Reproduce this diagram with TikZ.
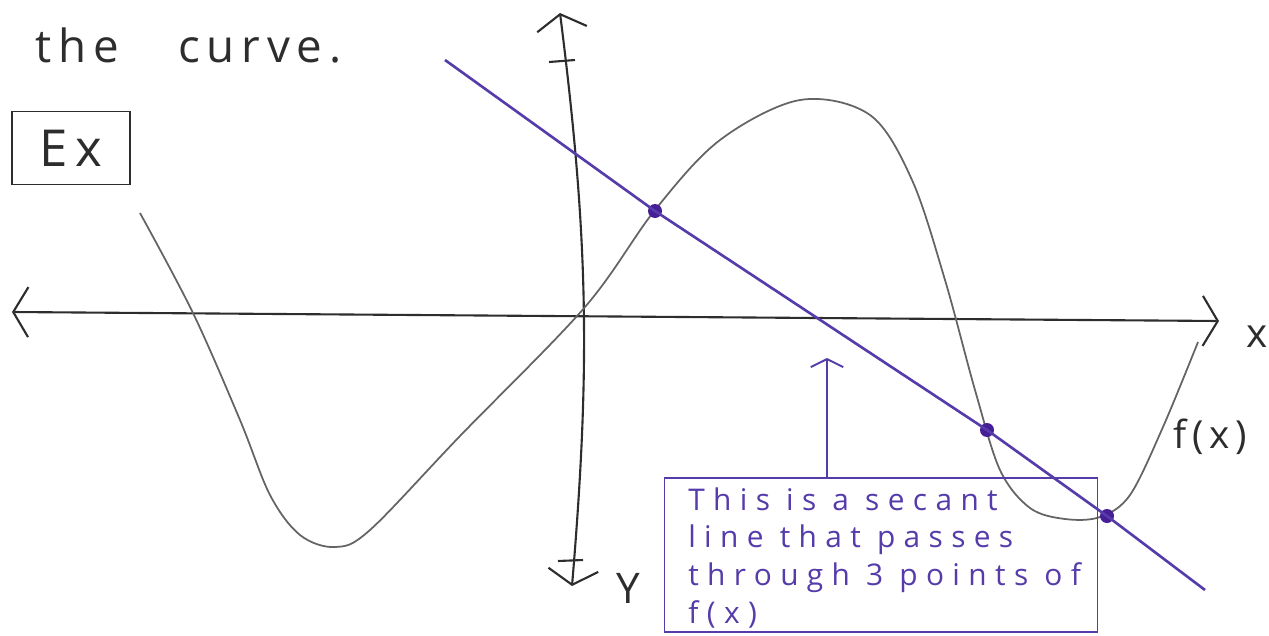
\documentclass[tikz,border=0pt]{standalone}
\usepackage{fontspec}
\setmainfont{Open Sans}
\newfontfamily\handfont[LetterSpace=15]{Open Sans}
\newfontfamily\notefont[LetterSpace=28]{Open Sans}
\usetikzlibrary{positioning,arrows.meta}

\definecolor{pencil}{RGB}{100,100,100}
\definecolor{ink}{RGB}{45,45,45}
\definecolor{penblue}{RGB}{85,60,170}
\definecolor{dotblue}{RGB}{70,30,150}

\begin{document}
\begin{tikzpicture}[
x=0.02cm,
y=-0.02cm,
axis/.style={draw=ink, line width=1.2pt},
curve/.style={draw=pencil, line width=1pt},
secant/.style={draw=penblue, line width=1.5pt},
dot/.style={circle, fill=dotblue, inner sep=0pt, minimum size=2.8mm},
label/.style={text=ink, inner sep=0pt},
>={Straight Barb[length=3mm,width=10mm]}
]

\useasboundingbox (0,0) rectangle (1269,636);

\node[label, font=\handfont\fontsize{26}{30}\selectfont, anchor=base west] (title) at (35,62)
{the\hspace{1.3em}curve.};

\node[label, draw=ink, line width=1pt, minimum width=2.36cm, minimum height=1.46cm,
font=\handfont\fontsize{29}{32}\selectfont] (ex) at (71,148) {Ex};

\coordinate (xL) at (12,312);
\coordinate (xR) at (1219,321);
\coordinate (yT) at (560,13);
\coordinate (yB) at (572,586);

\draw[axis,<->] (xL)--(xR);
\draw[axis,<->] (yT) to[bend left=6] (yB);
\draw[axis] (549,62)--(575,60);
\draw[axis] (558,561)--(583,560);

\node[label, font=\handfont\fontsize{23}{26}\selectfont] (xlab) at (1257,337) {x};
\node[label, font=\handfont\fontsize{24}{26}\selectfont] (ylab) at (628,588) {Y};
\node[label, font=\handfont\fontsize{22}{26}\selectfont] (flab) at (1210,437) {f(x)};

\draw[curve] plot[smooth, tension=0.55] coordinates {
(140,213) (193,313) (240,420) (270,495) (300,535) (335,547) (370,530)
(460,436) (585,307) (655,210) (720,140) (800,100) (870,115) (912,180)
(945,280) (975,390) (1000,470) (1030,508) (1065,519) (1100,517)
(1130,495) (1163,427) (1198,342)};

\node[dot] (p1) at (655,211) {};
\node[dot] (p2) at (987,430) {};
\node[dot] (p3) at (1107,516) {};

\coordinate (secA) at (445,60);
\coordinate (secB) at (1205,590);
\draw[secant] (secA)--(p1.center)--(p2.center)--(p3.center)--(secB);

\node[draw=penblue, line width=1pt, minimum width=8.66cm, minimum height=3.08cm,
inner sep=0pt] (notebox) at (881,555) {};
\node[text=penblue, font=\notefont\fontsize{17}{21.5}\selectfont, align=left,
anchor=north west, inner sep=0pt] (note) at (688,487)
{This is a secant\\line that passes\\through 3 points of\\f(x)};

\coordinate (tip) at (827,358);
\draw[secant, line width=1.1pt, ->, >={Straight Barb[length=1.6mm,width=6.5mm]}]
(notebox.north -| tip)--(tip);

\end{tikzpicture}
\end{document}
